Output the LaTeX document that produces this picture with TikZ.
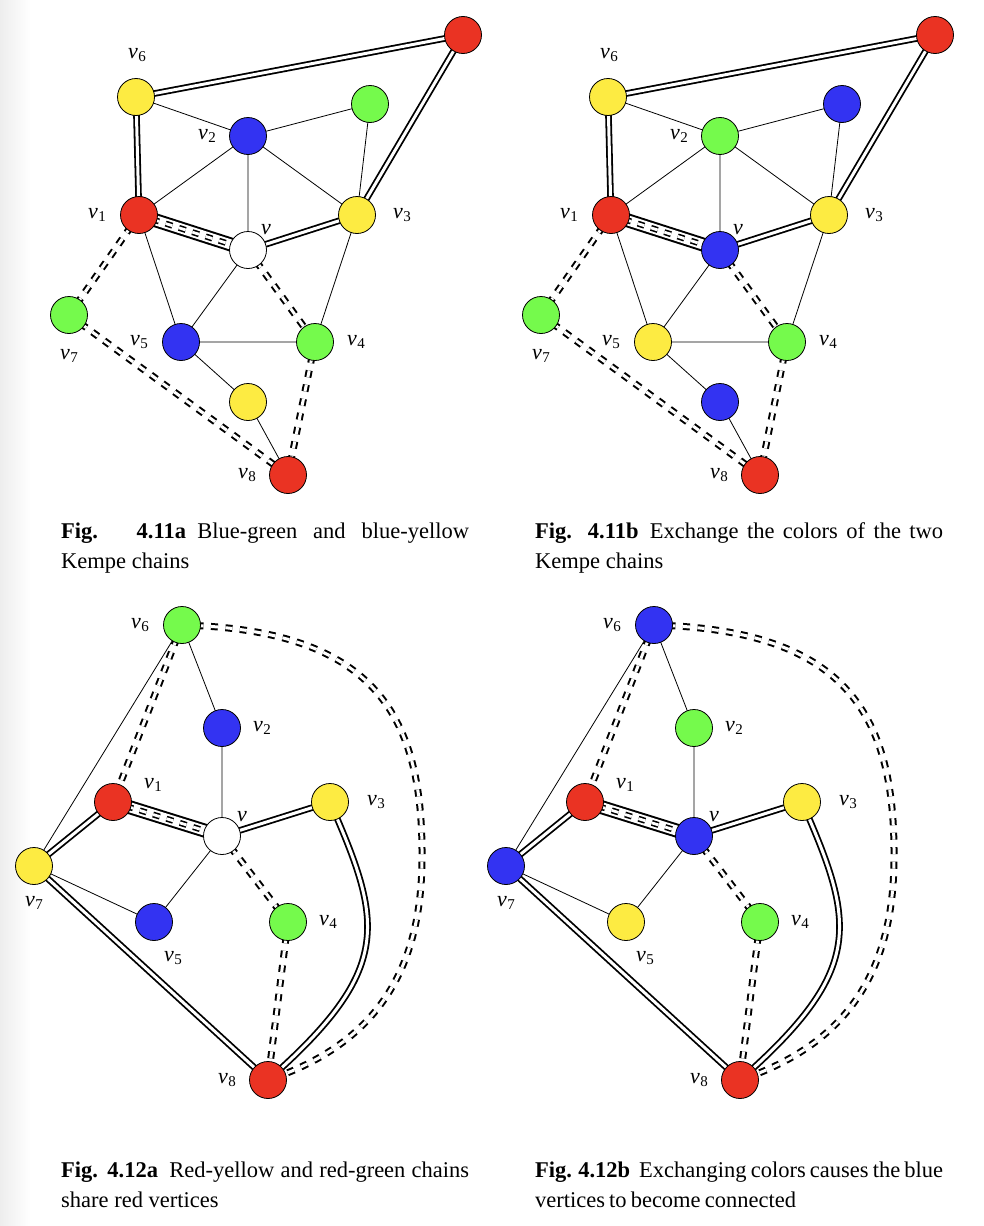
\documentclass[tikz,border=0pt]{standalone}
\usepackage{fontspec}
\setmainfont{Liberation Serif}
\usetikzlibrary{backgrounds}
\definecolor{cR}{HTML}{EA3323}
\definecolor{cY}{HTML}{FDEB42}
\definecolor{cG}{HTML}{75FA4C}
\definecolor{cB}{HTML}{3333F2}
\hyphenpenalty=10000
\exhyphenpenalty=10000
\newcommand{\vlab}[1]{\textit{v}\kern0.5pt\raisebox{-3pt}{\fontsize{15}{15}\selectfont #1}}
\tikzset{
 x=1pt, y=-1pt,
 vtx/.style={circle, draw=black, line width=0.8pt, minimum size=37pt, inner sep=0pt},
 lab/.style={font=\fontsize{22}{24}\selectfont, inner sep=0pt},
 thinedge/.style={line width=0.8pt},
 dbl/.style={line width=1.8pt, double=white, double distance=3pt},
 ddash/.style={line width=2pt, double=white, double distance=3pt, dash pattern=on 7pt off 7.5pt},
 widedbl/.style={line width=2pt, double=white, double distance=10pt},
 innerddash/.style={line width=1.6pt, double=white, double distance=2.8pt, dash pattern=on 7pt off 7pt},
 capbox/.style={text width=408pt, inner sep=0pt, anchor=base west, align=justify,
   font=\fontsize{22.5}{30}\selectfont},
}
% top panels: #1 prefix, #2 shift, #3 g0, #4 v2, #5 v, #6 v5, #7 y0
\newcommand{\topPanel}[7]{%
\begin{scope}[xshift=#2]
\node[vtx,fill=cR] (#1r0) at (463,35) {};
\node[vtx,fill=cY] (#1v6) at (136,97) {};
\node[vtx,fill=#3] (#1g0) at (370,104) {};
\node[vtx,fill=#4] (#1v2) at (248,136) {};
\node[vtx,fill=cR] (#1v1) at (139,215) {};
\node[vtx,fill=cY] (#1v3) at (357,215) {};
\node[vtx,fill=#5] (#1v) at (248,250) {};
\node[vtx,fill=cG] (#1v7) at (69,315) {};
\node[vtx,fill=#6] (#1v5) at (181,342) {};
\node[vtx,fill=cG] (#1v4) at (315,342) {};
\node[vtx,fill=#7] (#1y0) at (248,402) {};
\node[vtx,fill=cR] (#1v8) at (288,475) {};
\node[lab] (#1l6) at (137,55) {\vlab{6}};
\node[lab] (#1l2) at (207,136) {\vlab{2}};
\node[lab] (#1l1) at (97,215) {\vlab{1}};
\node[lab] (#1l3) at (402,215) {\vlab{3}};
\node[lab] (#1l0) at (266,230) {\textit{v}};
\node[lab] (#1l7) at (69,356) {\vlab{7}};
\node[lab] (#1l5) at (139,342) {\vlab{5}};
\node[lab] (#1l4) at (356,342) {\vlab{4}};
\node[lab] (#1l8) at (247,475) {\vlab{8}};
\begin{scope}[on background layer]
\draw[thinedge] (#1v6.center) -- (#1v2.center) (#1v2.center) -- (#1g0.center)
  (#1v2.center) -- (#1v1.center) (#1v2.center) -- (#1v.center)
  (#1v2.center) -- (#1v3.center) (#1g0.center) -- (#1v3.center)
  (#1v1.center) -- (#1v5.center) (#1v.center) -- (#1v5.center)
  (#1v3.center) -- (#1v4.center) (#1v5.center) -- (#1v4.center)
  (#1v5.center) -- (#1y0.center) (#1y0.center) -- (#1v8.center);
\draw[dbl] (#1v6.center) -- (#1r0.center);
\draw[dbl] (#1r0.center) -- (#1v3.center);
\draw[dbl] (#1v6.center) -- (#1v1.center);
\draw[dbl] (#1v.center) -- (#1v3.center);
\draw[ddash] (#1v1.center) -- (#1v7.center);
\draw[ddash] (#1v7.center) -- (#1v8.center);
\draw[ddash] (#1v.center) -- (#1v4.center);
\draw[ddash] (#1v4.center) -- (#1v8.center);
\draw[widedbl] (#1v1.center) -- (#1v.center);
\draw[innerddash] (#1v1.center) -- (#1v.center);
\end{scope}
\end{scope}}
% bottom panels: #1 prefix, #2 shift, #3 v6, #4 v2, #5 v, #6 v7, #7 v5
\newcommand{\botPanel}[7]{%
\begin{scope}[xshift=#2]
\node[vtx,fill=#3] (#1v6) at (182,625) {};
\node[vtx,fill=#4] (#1v2) at (222,728) {};
\node[vtx,fill=cR] (#1v1) at (113,802) {};
\node[vtx,fill=cY] (#1v3) at (330,802) {};
\node[vtx,fill=#5] (#1v) at (222,836) {};
\node[vtx,fill=#6] (#1v7) at (34,866) {};
\node[vtx,fill=#7] (#1v5) at (154,922) {};
\node[vtx,fill=cG] (#1v4) at (288,922) {};
\node[vtx,fill=cR] (#1v8) at (268,1080) {};
\coordinate (#1c) at (422,857);
\node[lab] (#1l6) at (140,625) {\vlab{6}};
\node[lab] (#1l2) at (262,728) {\vlab{2}};
\node[lab] (#1l1) at (153,785) {\vlab{1}};
\node[lab] (#1l3) at (376,802) {\vlab{3}};
\node[lab] (#1l0) at (242,817) {\textit{v}};
\node[lab] (#1l7) at (34,903) {\vlab{7}};
\node[lab] (#1l5) at (173,958) {\vlab{5}};
\node[lab] (#1l4) at (328,922) {\vlab{4}};
\node[lab] (#1l8) at (227,1080) {\vlab{8}};
\begin{scope}[on background layer]
\draw[thinedge] (#1v6.center) -- (#1v7.center) (#1v6.center) -- (#1v2.center)
  (#1v2.center) -- (#1v.center) (#1v.center) -- (#1v5.center)
  (#1v7.center) -- (#1v5.center);
\draw[dbl] (#1v7.center) -- (#1v1.center);
\draw[dbl] (#1v.center) -- (#1v3.center);
\draw[dbl] (#1v7.center) -- (#1v8.center);
\draw[dbl] (#1v3.center) .. controls +(53,121) and +(126,-111) .. (#1v8.center);
\draw[ddash] (#1v6.center) -- (#1v1.center);
\draw[ddash] (#1v.center) -- (#1v4.center);
\draw[ddash] (#1v4.center) -- (#1v8.center);
\draw[ddash] (#1v6.center) .. controls +(188,5) and +(1,-147) .. (#1c)
  .. controls +(0,110) and +(111,-37) .. (#1v8.center);
\draw[widedbl] (#1v1.center) -- (#1v.center);
\draw[innerddash] (#1v1.center) -- (#1v.center);
\end{scope}
\end{scope}}
\begin{document}
\begin{tikzpicture}
\useasboundingbox (0,0) rectangle (984,1226);
\begin{scope}[on background layer]
\fill[white] (0,0) rectangle (984,1226);
\shade[left color=black!7, right color=white] (0,0) rectangle (30,1226);
\end{scope}
\topPanel{a}{0pt}{cG}{cB}{white}{cB}{cY}
\topPanel{b}{472pt}{cB}{cG}{cB}{cY}{cB}
\botPanel{c}{0pt}{cG}{cB}{white}{cY}{cB}
\botPanel{d}{472pt}{cB}{cG}{cB}{cB}{cY}
\node[capbox] (capA) at (61,538) {\textbf{Fig. 4.11a}\enspace Blue-green and blue-yellow\linebreak Kempe chains};
\node[capbox] (capB) at (535,538) {\textbf{Fig. 4.11b}\enspace Exchange the colors of the two\linebreak Kempe chains};
\node[capbox] (capC) at (61,1177) {\textbf{Fig. 4.12a}\enspace Red-yellow and red-green chains\linebreak share red vertices};
\node[capbox] (capD) at (535,1177) {\spaceskip=0.18em plus 0.15em minus 0.03em\relax\textbf{Fig. 4.12b}\hspace{0.4em}Exchanging colors causes the blue\linebreak vertices to become connected};
\end{tikzpicture}
\end{document}
